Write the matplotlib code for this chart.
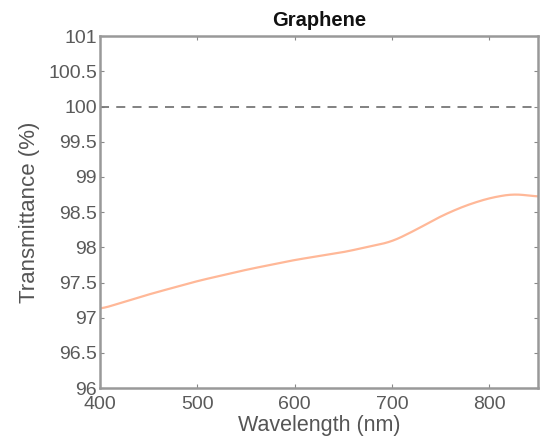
import numpy as np
import matplotlib.pyplot as plt

plt.rcParams['font.family'] = ['Liberation Sans', 'DejaVu Sans']

# transmittance
wavelength = [400, 450, 500, 550, 600, 650, 700, 725, 750, 775, 800, 825, 850]
transmittance = [97.12, 97.33, 97.52, 97.68, 97.82, 97.93, 98.08, 98.25, 98.44, 98.59, 98.70, 98.76, 98.72]
y_ticks = [96, 96.5, 97, 97.5, 98, 98.5, 99, 99.5, 100, 100.5, 101]
y_labels = ['96', '96.5', '97', '97.5', '98', '98.5', '99', '99.5', '100', '100.5', '101']
x_ticks = [400, 500, 600, 700, 800]

fig = plt.figure(figsize=(5.4, 4.41), dpi=100)
ax = fig.add_axes([0.185, 0.12, 0.811, 0.798])

# smooth the read points a bit for drawing
xs = np.linspace(400, 850, 300)
ys = np.interp(xs, wavelength, transmittance)
k = np.ones(15) / 15
ys_s = np.convolve(np.pad(ys, 7, mode='edge'), k, mode='valid')
ax.plot(xs, ys_s, color='#ffb898', lw=1.6)
ax.axhline(100, color='#777777', ls=(0, (5, 4)), lw=1.3)

ax.set_xlim(400, 850)
ax.set_ylim(96, 101)
ax.set_xticks(x_ticks)
ax.set_yticks(y_ticks)
ax.set_yticklabels(y_labels)
ax.tick_params(direction='in', length=3, color='#888888', labelcolor='#5a5a5a',
               labelsize=14, top=True, right=True)
ax.tick_params(axis='y', pad=2)
ax.tick_params(axis='x', pad=6)
for s in ax.spines.values():
    s.set_color('#999999')
    s.set_linewidth(1.8)

ax.set_xlabel('Wavelength (nm)', fontsize=15.5, color='#555555', labelpad=1)
ax.set_ylabel('Transmittance (%)', fontsize=16, color='#555555', labelpad=6)
ax.set_title('Graphene', fontsize=14.5, fontweight='bold', color='#111111', pad=7)

fig.savefig('out.png', dpi=100)
